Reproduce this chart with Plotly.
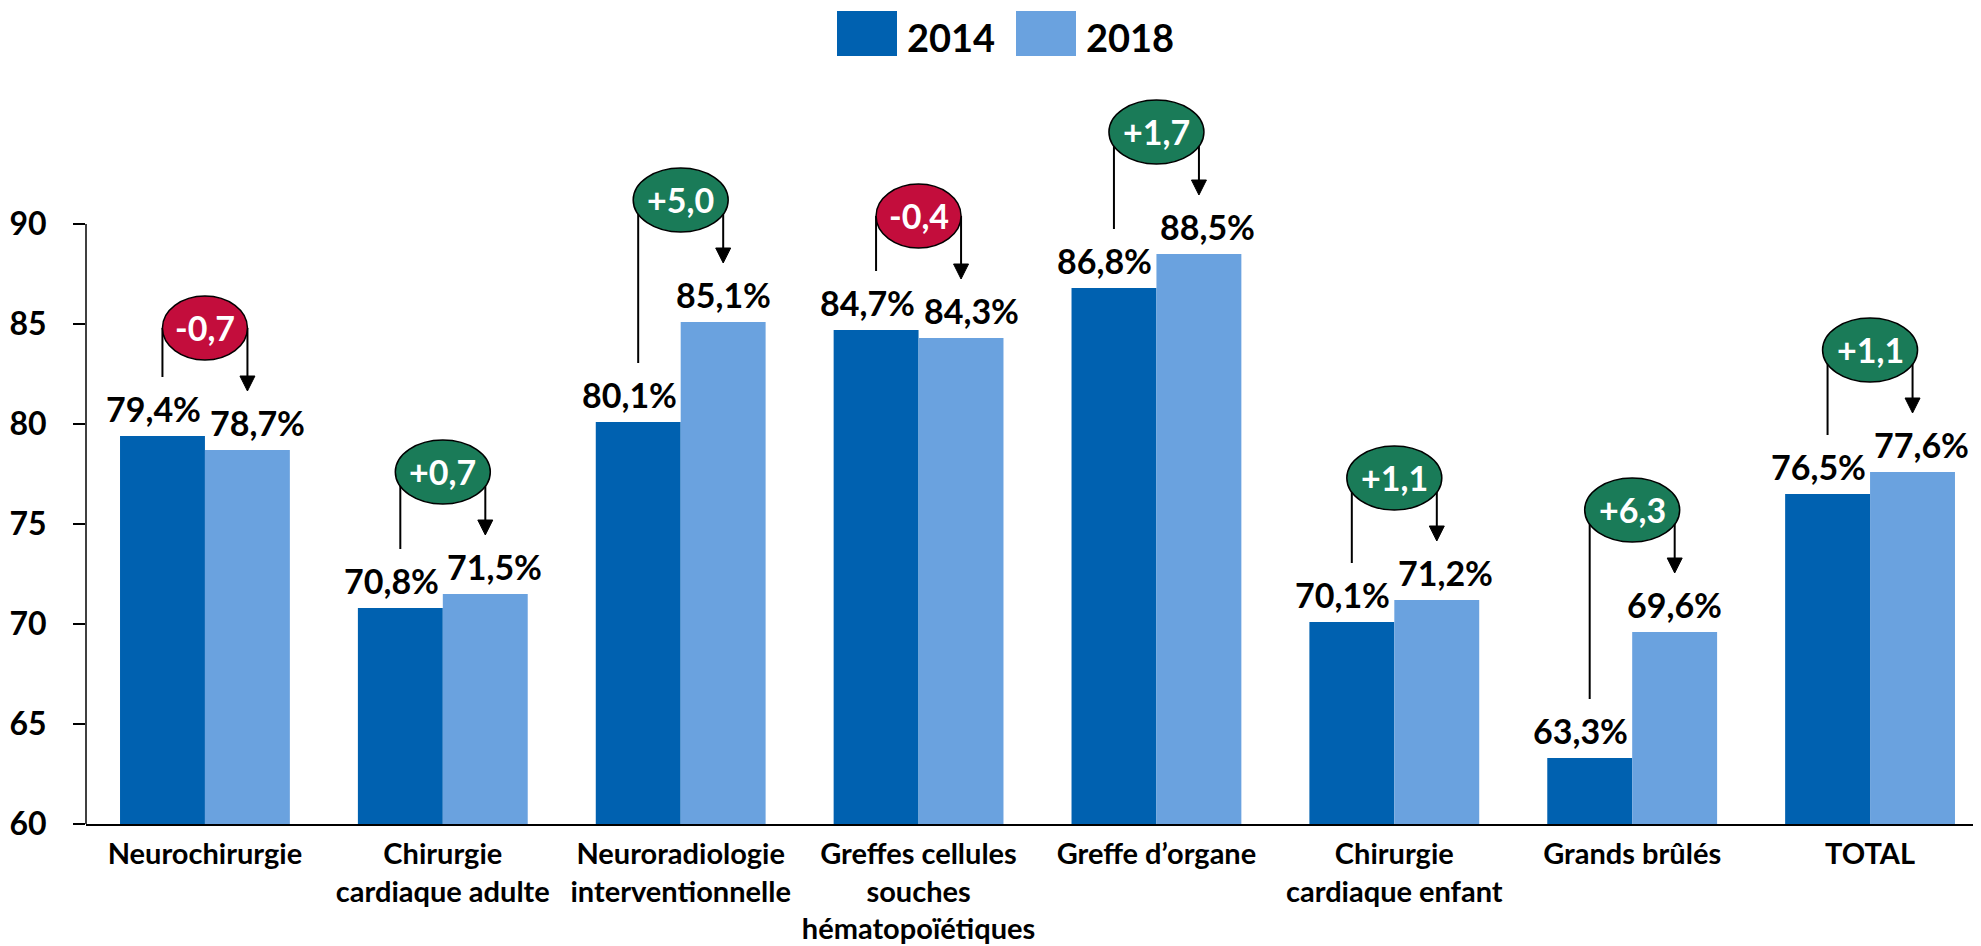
import plotly.graph_objects as go

# ---------------- data ----------------
categories = [
    "Neurochirurgie",
    "Chirurgie<br>cardiaque adulte",
    "Neuroradiologie<br>interventionnelle",
    "Greffes cellules<br>souches<br>hématopoïétiques",
    "Greffe d’organe",
    "Chirurgie<br>cardiaque enfant",
    "Grands brûlés",
    "TOTAL",
]
values_2014 = [79.4, 70.8, 80.1, 84.7, 86.8, 70.1, 63.3, 76.5]
values_2018 = [78.7, 71.5, 85.1, 84.3, 88.5, 71.2, 69.6, 77.6]
series_names = ["2014", "2018"]
y_ticks = [60, 65, 70, 75, 80, 85, 90]

# ---------------- style ----------------
W, H = 1981, 946
OFF = 8                      # page body margin of the browser
ML, MR, MT = 86 - OFF, 0, 0
PLOT_H = 824 - OFF           # plot area height in figure px
MB = H - MT - PLOT_H
C_DARK = "#0061B0"
C_LIGHT = "#6AA2DF"
C_UP = "#1A7B58"
C_DOWN = "#C30D3C"
FONT = "Lato"

X_RANGE = [-0.5, 7.5]
PXY = 20.0
Y_RANGE = [60, 60 + PLOT_H / PXY]
plot_w = W - ML - MR
PXX = plot_w / (X_RANGE[1] - X_RANGE[0])   # px per category

bar_half = 42.5 / PXX
lbl_shift_2014 = [-9] * 8
lbl_shift_2018 = [10, 9, 0, 10, 9, 9, 0, 9]

fig = go.Figure()
idx = list(range(len(categories)))
fig.add_trace(go.Bar(x=idx, y=values_2014, name=series_names[0],
                     marker=dict(color=C_DARK, line=dict(width=0))))
fig.add_trace(go.Bar(x=idx, y=values_2018, name=series_names[1],
                     marker=dict(color=C_LIGHT, line=dict(width=0))))

shapes = []
annotations = []

# value labels
for i in idx:
    for v, sign, sh in ((values_2014[i], -1, lbl_shift_2014[i]),
                        (values_2018[i], 1, lbl_shift_2018[i])):
        annotations.append(dict(
            x=i + sign * bar_half, y=v, xref="x", yref="y",
            text=f"{v:.1f}%".replace(".", ","), showarrow=False,
            yanchor="bottom", xanchor="center", yshift=5, xshift=sh,
            font=dict(family=FONT, size=34, color="black", weight="bold")))

# difference bubbles with connectors
line_dx = 42.5 / PXX
b = 32 / PXY
tri_h = 15 / PXY
tri_w = 7.5 / PXX
for i in idx:
    v14, v18 = values_2014[i], values_2018[i]
    d = round(v18 - v14, 1)
    up = d >= 0
    a = (47.5 if up else 42.5) / PXX
    cy = v18 + 6.1
    tip = v18 + 2.95
    shapes.append(dict(type="line", xref="x", yref="y",
                       x0=i - line_dx, x1=i - line_dx, y0=cy, y1=v14 + 2.95,
                       line=dict(color="black", width=2)))
    shapes.append(dict(type="line", xref="x", yref="y",
                       x0=i + line_dx, x1=i + line_dx, y0=cy, y1=tip + tri_h * 0.9,
                       line=dict(color="black", width=2)))
    xr = i + line_dx
    shapes.append(dict(type="path", xref="x", yref="y",
                       path=f"M {xr - tri_w},{tip + tri_h} L {xr + tri_w},{tip + tri_h} L {xr},{tip} Z",
                       fillcolor="black", line=dict(color="black", width=1)))
    shapes.append(dict(type="circle", xref="x", yref="y",
                       x0=i - a, x1=i + a, y0=cy - b, y1=cy + b,
                       fillcolor=C_UP if up else C_DOWN,
                       line=dict(color="black", width=1.5)))
    annotations.append(dict(
        x=i, y=cy, xref="x", yref="y",
        text=f"{d:+.1f}".replace(".", ","), showarrow=False,
        xanchor="center", yanchor="middle", yshift=1,
        font=dict(family=FONT, size=34, color="white", weight="bold")))

# y axis line (from 60 to 90 only)
shapes.append(dict(type="line", xref="paper", yref="y", x0=0, x1=0,
                   y0=y_ticks[0], y1=y_ticks[-1],
                   line=dict(color="black", width=1.5)))

# custom legend (screen px -> paper)
def px_to_paper_x(sx):
    return (sx - OFF - ML) / plot_w

def py_to_paper_y(sy):
    return (PLOT_H - (sy - OFF)) / PLOT_H

for x0, col, name in ((837, C_DARK, series_names[0]), (1016, C_LIGHT, series_names[1])):
    shapes.append(dict(type="rect", xref="paper", yref="paper",
                       x0=px_to_paper_x(x0), x1=px_to_paper_x(x0 + 60),
                       y0=py_to_paper_y(56), y1=py_to_paper_y(11),
                       fillcolor=col, line=dict(width=0)))
    annotations.append(dict(
        x=px_to_paper_x(x0 + 68), y=py_to_paper_y(37), xref="paper", yref="paper",
        text=name, showarrow=False, xanchor="left", yanchor="middle",
        font=dict(family=FONT, size=38, color="black", weight="bold")))

fig.update_layout(
    width=W, height=H,
    margin=dict(l=ML, r=MR, t=MT, b=MB, pad=0),
    paper_bgcolor="white", plot_bgcolor="white",
    barmode="group", bargap=0.286, bargroupgap=0,
    showlegend=False,
    shapes=shapes, annotations=annotations,
    font=dict(family=FONT, color="black"),
)
fig.update_xaxes(
    range=X_RANGE, tickmode="array", tickvals=idx, ticktext=categories,
    showgrid=False, zeroline=False, showline=True, linecolor="black", linewidth=2,
    ticks="outside", ticklen=3, tickcolor="rgba(0,0,0,0)",
    tickfont=dict(family=FONT, size=29, color="black", weight="bold"),
    automargin=False,
)
fig.update_yaxes(
    range=Y_RANGE, tickmode="array", tickvals=y_ticks,
    showgrid=False, zeroline=False, showline=False,
    ticks="outside", ticklen=12, tickwidth=1.5, tickcolor="black",
    ticklabelstandoff=20, automargin=False,
    tickfont=dict(family=FONT, size=32, color="black", weight="bold"),
)

fig.write_html("out.html")
